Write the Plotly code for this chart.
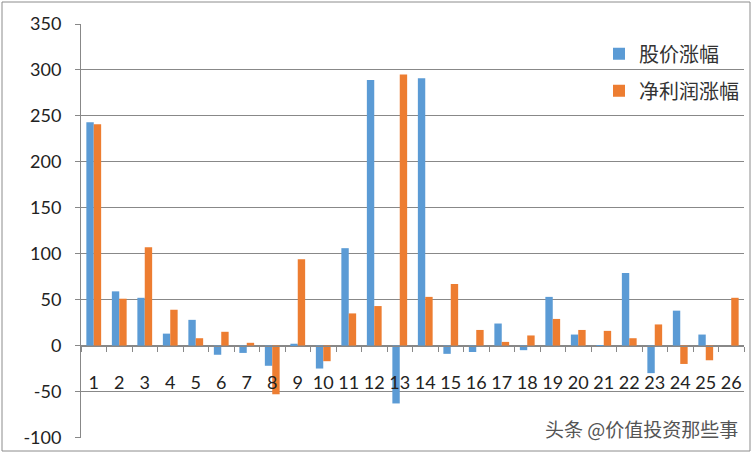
import plotly.graph_objects as go

# Data
categories = [str(i) for i in range(1, 27)]
price_change = [243, 59, 52, 13, 28, -10, -8, -22, 2, -25, 106, 289, -63, 291,
                -9, -7, 24, -5, 53, 12, -1, 79, -30, 38, 12, 0]
profit_change = [241, 51, 107, 39, 8, 15, 3, -53, 94, -17, 35, 43, 295, 53,
                 67, 17, 4, 11, 29, 17, 16, 8, 23, -20, -16, 52]
y_ticks = [-100, -50, 0, 50, 100, 150, 200, 250, 300, 350]

font_main = "Lato, 'Noto Sans CJK SC', sans-serif"
grid_color = "#888888"

fig = go.Figure()
fig.add_trace(go.Bar(x=categories, y=price_change, name="股价涨幅", legendgroup="a",
                     marker_color="#5B9BD5", marker_line_width=0))
fig.add_trace(go.Bar(x=categories, y=profit_change, name="净利润涨幅", legendgroup="b",
                     marker_color="#ED7D31", marker_line_width=0))

y_min, y_max = -100, 350
zero_pos = (0 - y_min) / (y_max - y_min)

fig.update_layout(
    width=752, height=453,
    margin=dict(l=81, r=8, t=24, b=15, autoexpand=False),
    paper_bgcolor="white", plot_bgcolor="white",
    barmode="group", bargap=0.42, bargroupgap=0,
    font=dict(family=font_main, size=18, color="#222222"),
    showlegend=True,
    legend=dict(x=1.0, y=0.975, xanchor="right", yanchor="top",
                bgcolor="rgba(0,0,0,0)",
                font=dict(family="'Noto Sans CJK SC', sans-serif", size=20, color="#333333"),
                tracegroupgap=8),
    xaxis=dict(type="category", anchor="free", position=zero_pos,
               showline=True, linecolor=grid_color, linewidth=1,
               ticks="outside", tickson="boundaries", ticklen=5, tickcolor=grid_color,
               showgrid=False, tickangle=0, tickfont=dict(size=18), ticklabelstandoff=20),
    yaxis=dict(range=[y_min - 0.6, y_max], tickvals=y_ticks,
               ticktext=[str(v) for v in y_ticks], showgrid=True,
               gridcolor=grid_color, gridwidth=1, zeroline=False,
               showline=True, linecolor=grid_color, linewidth=1,
               ticks="outside", ticklen=5, tickcolor=grid_color,
               ticklabelstandoff=10, tickfont=dict(size=18)),
)

# outer chart border
fig.add_shape(type="rect", xref="paper", yref="paper",
              x0=-79 / 663, x1=1 + 6 / 663, y0=-13 / 414, y1=1 + 22 / 414,
              line=dict(color="#8c8c8c", width=1), fillcolor="rgba(0,0,0,0)")

# watermark
fig.add_annotation(text="头条 @价值投资那些事", xref="paper", yref="paper",
                   x=0.994, y=0.024, xanchor="right", yanchor="middle", showarrow=False,
                   font=dict(family="'Noto Sans CJK SC', sans-serif", size=19, color="#555555"))

fig.write_html("out.html", config={"displayModeBar": False},
               post_script="document.body.style.margin='0';")
